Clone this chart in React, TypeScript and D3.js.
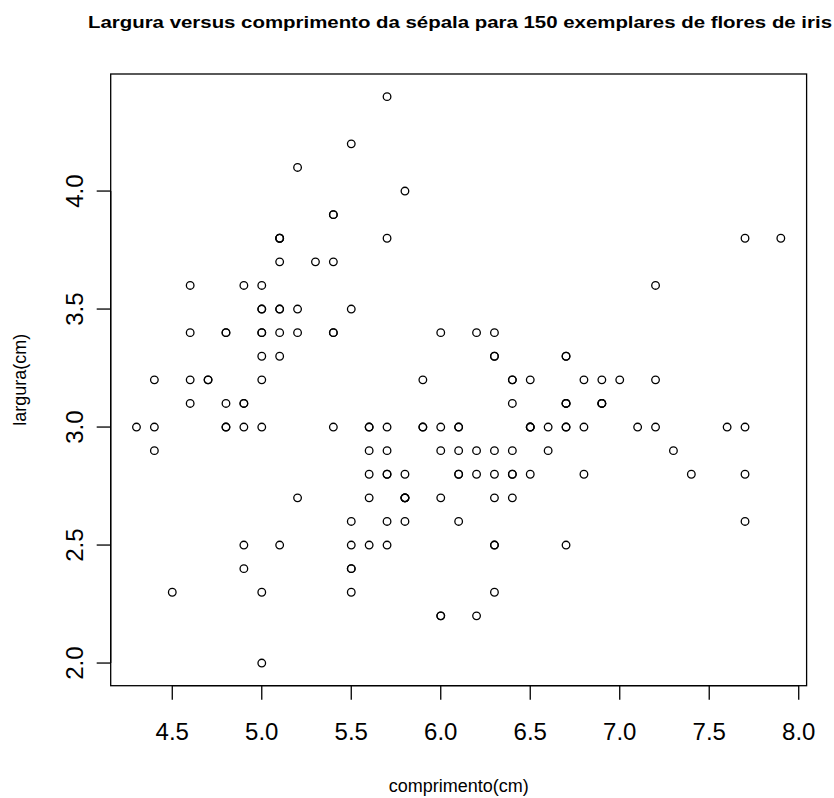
import React, { useEffect } from "react";
import * as d3 from "d3";

// Sepal length (cm) for the 150 iris flowers
const sepalLength: number[] = [
  5.1, 4.9, 4.7, 4.6, 5.0, 5.4, 4.6, 5.0, 4.4, 4.9, 5.4, 4.8, 4.8, 4.3, 5.8, 5.7, 5.4, 5.1, 5.7, 5.1,
  5.4, 5.1, 4.6, 5.1, 4.8, 5.0, 5.0, 5.2, 5.2, 4.7, 4.8, 5.4, 5.2, 5.5, 4.9, 5.0, 5.5, 4.9, 4.4, 5.1,
  5.0, 4.5, 4.4, 5.0, 5.1, 4.8, 5.1, 4.6, 5.3, 5.0,
  7.0, 6.4, 6.9, 5.5, 6.5, 5.7, 6.3, 4.9, 6.6, 5.2, 5.0, 5.9, 6.0, 6.1, 5.6, 6.7, 5.6, 5.8, 6.2, 5.6,
  5.9, 6.1, 6.3, 6.1, 6.4, 6.6, 6.8, 6.7, 6.0, 5.7, 5.5, 5.5, 5.8, 6.0, 5.4, 6.0, 6.7, 6.3, 5.6, 5.5,
  5.5, 6.1, 5.8, 5.0, 5.6, 5.7, 5.7, 6.2, 5.1, 5.7,
  6.3, 5.8, 7.1, 6.3, 6.5, 7.6, 4.9, 7.3, 6.7, 7.2, 6.5, 6.4, 6.8, 5.7, 5.8, 6.4, 6.5, 7.7, 7.7, 6.0,
  6.9, 5.6, 7.7, 6.3, 6.7, 7.2, 6.2, 6.1, 6.4, 7.2, 7.4, 7.9, 6.4, 6.3, 6.1, 7.7, 6.3, 6.4, 6.0, 6.9,
  6.7, 6.9, 5.8, 6.8, 6.7, 6.7, 6.3, 6.5, 6.2, 5.9,
];

// Sepal width (cm), same order
const sepalWidth: number[] = [
  3.5, 3.0, 3.2, 3.1, 3.6, 3.9, 3.4, 3.4, 2.9, 3.1, 3.7, 3.4, 3.0, 3.0, 4.0, 4.4, 3.9, 3.5, 3.8, 3.8,
  3.4, 3.7, 3.6, 3.3, 3.4, 3.0, 3.4, 3.5, 3.4, 3.2, 3.1, 3.4, 4.1, 4.2, 3.1, 3.2, 3.5, 3.6, 3.0, 3.4,
  3.5, 2.3, 3.2, 3.5, 3.8, 3.0, 3.8, 3.2, 3.7, 3.3,
  3.2, 3.2, 3.1, 2.3, 2.8, 2.8, 3.3, 2.4, 2.9, 2.7, 2.0, 3.0, 2.2, 2.9, 2.9, 3.1, 3.0, 2.7, 2.2, 2.5,
  3.2, 2.8, 2.5, 2.8, 2.9, 3.0, 2.8, 3.0, 2.9, 2.6, 2.4, 2.4, 2.7, 2.7, 3.0, 3.4, 3.1, 2.3, 3.0, 2.5,
  2.6, 3.0, 2.6, 2.3, 2.7, 3.0, 2.9, 2.9, 2.5, 2.8,
  3.3, 2.7, 3.0, 2.9, 3.0, 3.0, 2.5, 2.9, 2.5, 3.6, 3.2, 2.7, 3.0, 2.5, 2.8, 3.2, 3.0, 3.8, 2.6, 2.2,
  3.2, 2.8, 2.8, 2.7, 3.3, 3.2, 2.8, 3.0, 2.8, 3.0, 2.8, 3.8, 2.8, 2.8, 2.6, 3.0, 3.4, 3.1, 3.0, 3.1,
  3.1, 3.1, 2.7, 3.2, 3.3, 3.0, 2.5, 3.0, 3.4, 3.0,
];

const xTicks: number[] = [4.5, 5.0, 5.5, 6.0, 6.5, 7.0, 7.5, 8.0];
const yTicks: number[] = [2.0, 2.5, 3.0, 3.5, 4.0];

const chartTitle = "Largura versus comprimento da sépala para 150 exemplares de flores de iris";
const xTitle = "comprimento(cm)";
const yTitle = "largura(cm)";

const W = 834;
const H = 798;
const plot = { left: 110.7, right: 806.6, top: 74, bottom: 685.7 };
const FONT = "'Liberation Sans', Arial, Helvetica, sans-serif";

// R-style 4% padding around the data range
function padded(values: number[]): [number, number] {
  const [lo, hi] = d3.extent(values) as [number, number];
  const p = (hi - lo) * 0.04;
  return [lo - p, hi + p];
}

export default function App() {
  useEffect(() => {
    document.body.style.margin = "0";
  }, []);

  const x = d3.scaleLinear().domain(padded(sepalLength)).range([plot.left, plot.right]);
  const y = d3.scaleLinear().domain(padded(sepalWidth)).range([plot.bottom, plot.top]);
  const tickLen = 14;
  const cx = (plot.left + plot.right) / 2;
  const cy = (plot.top + plot.bottom) / 2;

  return (
    <svg width={W} height={H} viewBox={`0 0 ${W} ${H}`} style={{ display: "block", background: "#fff" }}>
      <rect x={0} y={0} width={W} height={H} fill="#fff" />
      <text
        x={460}
        y={28.3}
        textAnchor="middle"
        fontFamily={FONT}
        fontWeight="bold"
        fontSize={16}
        textLength={744}
        lengthAdjust="spacingAndGlyphs"
        fill="#000"
      >
        {chartTitle}
      </text>

      {/* plot box */}
      <rect
        x={plot.left}
        y={plot.top}
        width={plot.right - plot.left}
        height={plot.bottom - plot.top}
        fill="none"
        stroke="#000"
        strokeWidth={1.3}
      />

      {/* x axis */}
      <g>
        <line
          x1={x(xTicks[0])}
          x2={x(xTicks[xTicks.length - 1])}
          y1={plot.bottom}
          y2={plot.bottom}
          stroke="#000"
          strokeWidth={1.3}
        />
        {xTicks.map((t) => (
          <g key={t}>
            <line x1={x(t)} x2={x(t)} y1={plot.bottom} y2={plot.bottom + tickLen} stroke="#000" strokeWidth={1.3} />
            <text x={x(t)} y={740} textAnchor="middle" fontFamily={FONT} fontSize={24} fill="#000">
              {d3.format(".1f")(t)}
            </text>
          </g>
        ))}
      </g>

      {/* y axis */}
      <g>
        <line
          x1={plot.left}
          x2={plot.left}
          y1={y(yTicks[0])}
          y2={y(yTicks[yTicks.length - 1])}
          stroke="#000"
          strokeWidth={1.3}
        />
        {yTicks.map((t) => (
          <g key={t}>
            <line x1={plot.left - tickLen} x2={plot.left} y1={y(t)} y2={y(t)} stroke="#000" strokeWidth={1.3} />
            <text
              transform={`translate(83,${y(t)}) rotate(-90)`}
              textAnchor="middle"
              fontFamily={FONT}
              fontSize={24}
              fill="#000"
            >
              {d3.format(".1f")(t)}
            </text>
          </g>
        ))}
      </g>

      {/* axis titles */}
      <text x={cx} y={792} textAnchor="middle" fontFamily={FONT} fontSize={18} fill="#000">
        {xTitle}
      </text>
      <text
        transform={`translate(26,${cy}) rotate(-90)`}
        textAnchor="middle"
        fontFamily={FONT}
        fontSize={18}
        fill="#000"
      >
        {yTitle}
      </text>

      {/* points */}
      <g fill="none" stroke="#000" strokeWidth={1.3}>
        {sepalLength.map((v, i) => (
          <circle key={i} cx={x(v)} cy={y(sepalWidth[i])} r={3.8} />
        ))}
      </g>
    </svg>
  );
}
